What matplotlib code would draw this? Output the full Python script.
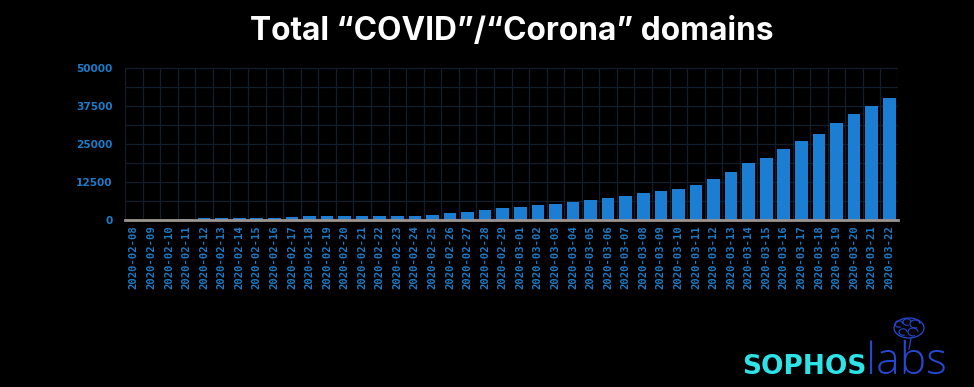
import matplotlib
matplotlib.use("Agg")
import matplotlib.pyplot as plt
import numpy as np
import pandas as pd
from matplotlib.patches import Ellipse, Arc

dates = [d.strftime("%Y-%m-%d") for d in pd.date_range("2020-02-08", "2020-03-22")]
counts = [60, 60, 60, 300, 550, 750, 760, 800, 820, 1150, 1170, 1190, 1220, 1240,
          1260, 1450, 1480, 1750, 2190, 2740, 3290, 3840, 4170, 4830, 5260, 5810,
          6690, 7240, 8000, 8770, 9650, 10250, 11650, 13550, 15750, 18600, 20450,
          23300, 26050, 28450, 31750, 34900, 37450, 40150]
yticks = [0, 12500, 25000, 37500, 50000]
title = "Total \u201cCOVID\u201d/\u201cCorona\u201d domains"

W, H = 974, 387
fig = plt.figure(figsize=(W / 100, H / 100), dpi=100, facecolor="black")
ax = fig.add_axes([125 / W, (H - 220) / H, (898 - 125) / W, (220 - 68) / H])
ax.set_facecolor("black")

bar_color = "#1b7ed2"
lab_color = "#1c7cc8"
x = np.arange(len(dates))
ax.bar(x, counts, width=0.72, color=bar_color, zorder=3)

ax.set_xlim(-0.5, len(dates) - 0.5)
ax.set_ylim(0, 50000)
ax.set_yticks(yticks)
ax.set_yticklabels([str(v) for v in yticks], fontdict=dict(family="DejaVu Sans", weight="bold", size=7.6), color=lab_color)
ax.set_yticks(np.arange(0, 50001, 6250), minor=True)
ax.set_xticks(x)
ax.set_xticklabels(dates, rotation=90, family="DejaVu Sans Mono", weight="bold", size=7.6, color=lab_color)
ax.set_xticks(np.arange(-0.5, len(dates), 1.0), minor=True)
ax.tick_params(axis="both", which="both", length=0)
ax.tick_params(axis="y", pad=9)
ax.tick_params(axis="x", pad=4)
ax.grid(True, which="minor", color="#111f2c", linewidth=0.9, zorder=0)
ax.grid(True, which="major", axis="y", color="#111f2c", linewidth=0.9, zorder=0)
for s in ["top", "right", "left"]:
    ax.spines[s].set_visible(False)
ax.spines["bottom"].set_color("#9a958f")
ax.spines["bottom"].set_linewidth(2)
ax.spines["bottom"].set_zorder(4)

fig.text(512 / W, 1 - 40 / H, title, ha="center", va="baseline", color="white",
         family="Inter", weight="bold", size=22.8)

# logo
fig.text(742 / W, 1 - 374 / H, "SOPHOS", ha="left", va="baseline", color="#2de3e8",
         family="DejaVu Sans", weight="bold", size=19)
fig.text(866 / W, 1 - 374 / H, "labs", ha="left", va="baseline", color="#2448d0",
         family="Open Sans", weight="light", size=32)

# brain icon
lax = fig.add_axes([885 / W, 1 - 350 / H, 45 / W, 35 / H])
lax.set_xlim(0, 45)
lax.set_ylim(0, 35)
lax.axis("off")
ic = "#2448d0"
lax.add_patch(Ellipse((24, 22), 30, 20, fill=False, ec=ic, lw=0.9))
for cx, cy, r in [(14, 26, 4), (22, 28, 4), (30, 26, 5), (18, 18, 4), (28, 18, 5)]:
    lax.add_patch(Arc((cx, cy), r * 2, r * 1.6, theta1=0, theta2=300, ec=ic, lw=0.8))
lax.plot([26, 25, 24], [12, 6, 1], color=ic, lw=0.9)

fig.savefig("out.png", dpi=100, facecolor="black")
